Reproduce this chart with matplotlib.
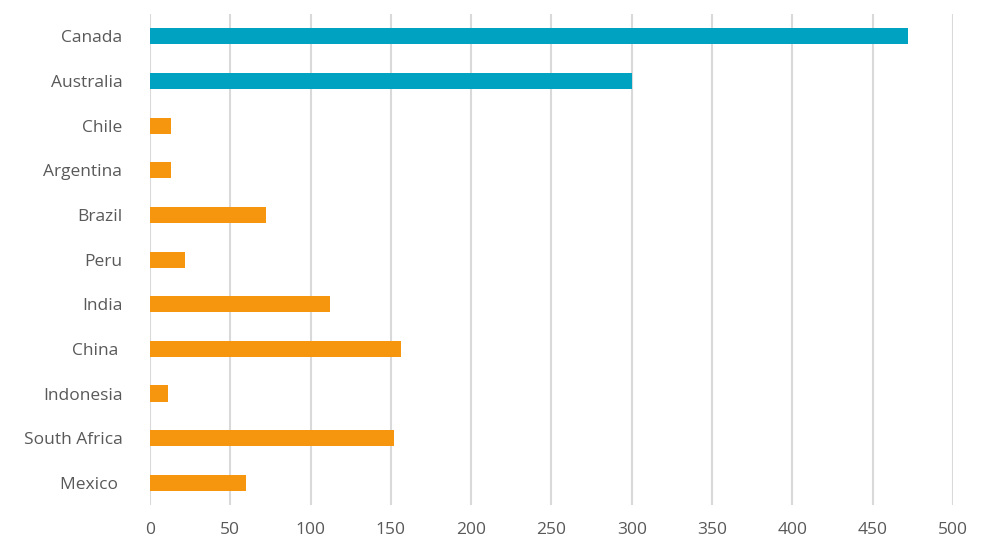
import matplotlib
matplotlib.use("Agg")
import matplotlib.pyplot as plt

countries = ["Canada", "Australia", "Chile", "Argentina", "Brazil", "Peru", "India",
             "China ", "Indonesia", "South Africa", "Mexico "]
values = [472, 300, 13, 13, 72, 22, 112, 156, 11, 152, 60]
colors = ["#00A2C1", "#00A2C1"] + ["#F5960E"] * 9
xticks = [0, 50, 100, 150, 200, 250, 300, 350, 400, 450, 500]

plt.rcParams['font.family'] = ['Open Sans', 'DejaVu Sans']
fig = plt.figure(figsize=(10.03, 5.6), dpi=100)
ax = fig.add_axes([0.1496, 0.098, 0.8005, 0.877])
y = list(range(len(countries)))
ax.barh(y, values, height=0.36, color=colors, zorder=3)
ax.set_ylim(len(countries) - 0.5, -0.5)
ax.set_xlim(0, 500)
ax.set_xticks(xticks)
ax.set_yticks(y)
ax.set_yticklabels(countries)
ax.grid(axis='x', color='#D9D9D9', linewidth=1.5, zorder=0)
for s in ax.spines.values():
    s.set_visible(False)
ax.tick_params(length=0, labelsize=12.5, colors='#595959')
ax.tick_params(axis='x', pad=12)
ax.tick_params(axis='y', pad=20)
fig.savefig("out.png", dpi=100)
